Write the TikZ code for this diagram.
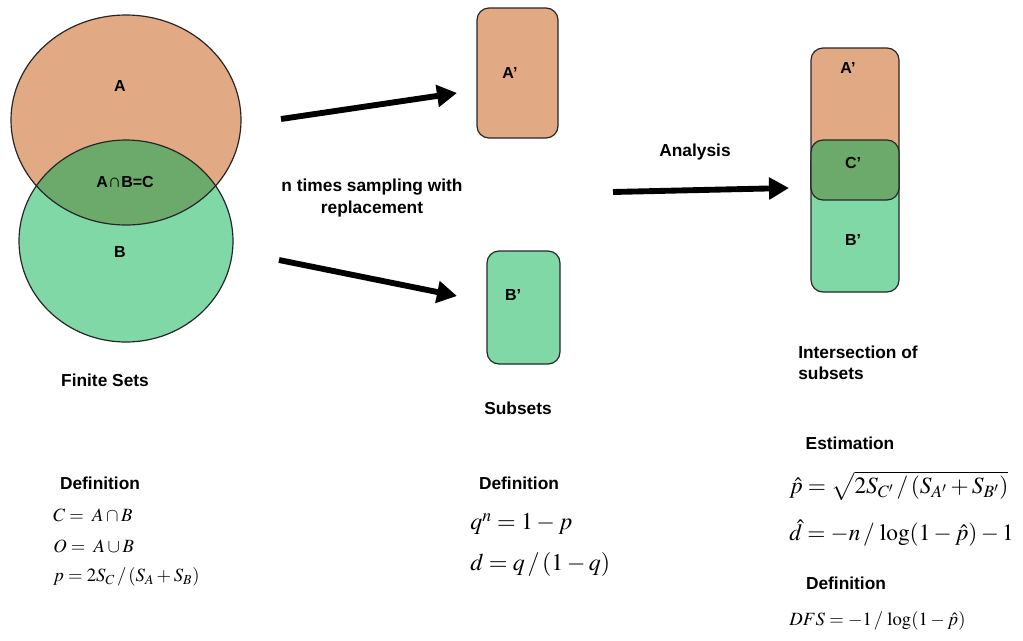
\documentclass[tikz,border=0pt]{standalone}
\usepackage{mathptmx}
\usepackage{fontspec}
\setmainfont{Liberation Serif}
\setsansfont{Liberation Sans}
\usetikzlibrary{shapes.geometric,arrows.meta}
\definecolor{orangeA}{RGB}{226,170,132}
\definecolor{greenB}{RGB}{128,216,166}
\definecolor{greenC}{RGB}{108,170,108}
\begin{document}
\begin{tikzpicture}[x=0.75pt,y=-0.75pt,
  lbl/.style={font=\sffamily\bfseries\fontsize{13}{16}\selectfont, inner sep=0pt},
  setlbl/.style={font=\sffamily\bfseries\fontsize{12}{14}\selectfont, inner sep=0pt},
  eqL/.style={font=\fontsize{14}{16}\selectfont, inner sep=0pt, anchor=west},
  eqM/.style={font=\fontsize{18}{20}\selectfont, inner sep=0pt, anchor=west},
  eqR/.style={font=\fontsize{17.5}{20}\selectfont, inner sep=0pt, anchor=west},
  outline/.style={draw=black!85, line width=0.9pt},
  bigarrow/.style={line width=4.4pt, -{Triangle[length=15pt,width=16pt]}},
  box/.style={outline, rounded corners=9pt}]
\useasboundingbox (0,0) rectangle (1023,640);
% Venn diagram
\fill[orangeA] (126,120) ellipse [x radius=115, y radius=105];
\fill[greenB] (126,241) ellipse [x radius=107, y radius=101];
\begin{scope}
  \clip (126,120) ellipse [x radius=115, y radius=105];
  \fill[greenC] (126,241) ellipse [x radius=107, y radius=101];
\end{scope}
\draw[outline] (126,120) ellipse [x radius=115, y radius=105];
\draw[outline] (126,241) ellipse [x radius=107, y radius=101];
\node[setlbl] (lA) at (120,86) {A};
\node[setlbl] (lC) at (125,182) {A{\fontsize{14}{14}\selectfont∩}B=C};
\node[setlbl] (lB) at (120,252) {B};
\node[lbl] (finite) at (105,380) {Finite Sets};
% subsets
\draw[box, fill=orangeA] (477,8) rectangle (558,138);
\node[setlbl] (sA) at (510,73) {A’};
\draw[box, fill=greenB] (487,251) rectangle (560,364);
\node[setlbl] (sB) at (513,295) {B’};
\node[lbl] (subsets) at (518,408) {Subsets};
% arrows
\coordinate (a1s) at (281,119);
\coordinate (a1e) at (457,93);
\coordinate (a2s) at (279,260);
\coordinate (a2e) at (457,296);
\draw[bigarrow] (a1s) -- (a1e);
\draw[bigarrow] (a2s) -- (a2e);
\node[lbl, align=center] (sampling) at (372,198) {n times sampling with\\replacement};
\coordinate (a3s) at (613,192);
\coordinate (a3e) at (789,188);
\draw[bigarrow] (a3s) -- (a3e);
\node[lbl] (analysis) at (695,152) {Analysis};
% intersection stack
\draw[box, fill=orangeA] (811,48) rectangle (899,200);
\draw[box, fill=greenB] (811,150) rectangle (899,292);
\draw[box, fill=greenC] (811,140) rectangle (899,200);
\node[setlbl] (iA) at (848,68) {A’};
\node[setlbl] (iC) at (853,163) {C’};
\node[setlbl] (iB) at (853,240) {B’};
\node[lbl, align=left, anchor=west] (inter) at (798,363) {Intersection of\\subsets};
% left definitions
\node[lbl] (defL) at (100,483) {Definition};
\node[eqL] (e1) at (53,515) {$C=\;A\cap B$};
\node[eqL] (e2) at (53,546) {$O=\;A\cup B$};
\node[eqL] (e3) at (53,577) {$p=2S_C\,/\,(S_A+S_B)$};
% middle definitions
\node[lbl] (defM) at (519,483) {Definition};
\node[eqM] (m1) at (470,524) {$q^n=1-p$};
\node[eqM] (m2) at (470,564) {$d=q\,/\,(1-q)$};
% right estimation
\node[lbl] (est) at (850,443) {Estimation};
\node[eqR] (r1) at (789,486) {$\hat{p}=\sqrt{2S_{C'}\,/\,(S_{A'}+S_{B'})}$};
\node[eqR] (r2) at (789,533) {$\hat{d}=-n\,/\,\log(1-\hat{p})-1$};
\node[lbl] (defR) at (846,583) {Definition};
\node[eqL] (r3) at (789,621) {$DFS=-1\,/\,\log(1-\hat{p})$};
\end{tikzpicture}
\end{document}
